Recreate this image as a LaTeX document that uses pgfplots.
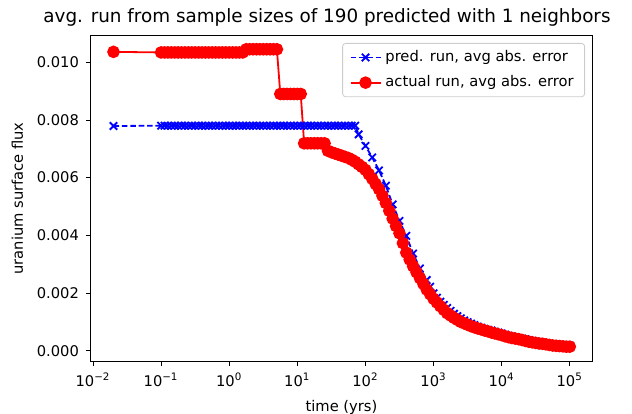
\documentclass[border=0pt]{standalone}
\usepackage{pgfplots}
\pgfplotsset{compat=1.18}
\usepackage{pgfplotstable}
\usepackage{fontspec}
\setmainfont{DejaVu Sans}

% t (yrs), predicted run, actual run (nan: no prediction sample at that time)
\pgfplotstableread{
t      pred     actual
0.02   0.00779  0.01036
0.1    0.0078   0.01034
0.1122 0.0078   0.01034
0.1259 0.0078   0.01034
0.1413 0.0078   0.01034
0.1585 0.0078   0.01034
0.1778 0.0078   0.01034
0.1995 0.0078   0.01034
0.2239 0.0078   0.01034
0.2512 0.0078   0.01034
0.2818 0.0078   0.01034
0.3162 0.0078   0.01034
0.3548 0.0078   0.01034
0.3981 0.0078   0.01034
0.4467 0.0078   0.01034
0.5012 0.0078   0.01034
0.5623 0.0078   0.01034
0.6310 0.0078   0.01034
0.7079 0.0078   0.01034
0.7943 0.0078   0.01034
0.8913 0.0078   0.01034
1      0.0078   0.01034
1.122  0.0078   0.01034
1.259  0.0078   0.01034
1.413  0.0078   0.01034
1.585  0.0078   0.01034
1.778  0.0078   0.01045
1.995  0.0078   0.01045
2.239  0.0078   0.01045
2.512  0.0078   0.01045
2.818  0.0078   0.01045
3.162  0.0078   0.01045
3.548  0.0078   0.01045
3.981  0.0078   0.01045
4.467  0.0078   0.01045
5.012  0.0078   0.01045
5.623  0.0078   0.0089
6.310  0.0078   0.0089
7.079  0.0078   0.0089
7.943  0.0078   0.0089
8.913  0.0078   0.0089
10     0.0078   0.0089
11.22  0.0078   0.0089
12.59  0.0078   0.00719
14.13  0.0078   0.00719
15.85  0.0078   0.00719
17.78  0.0078   0.00719
19.95  0.0078   0.00719
22.39  0.0078   0.00719
25.12  0.0078   0.00719
28.18  0.0078   0.00693
31.62  0.0078   0.00688
35.48  0.0078   0.00684
39.81  0.0078   0.0068
44.67  0.0078   0.00676
50.12  0.0078   0.00672
56.23  0.0078   0.00668
63.10  0.0078   0.00662
70.79  0.0078   0.00655
79.43  0.0075   0.00646
89.13  nan      0.00637
100    0.0071   0.00627
112.2  nan      0.00612
125.9  0.0067   0.00596
141.3  nan      0.00578
158.5  0.00625  0.0056
177.8  nan      0.00537
199.5  0.00572  0.00512
223.9  nan      0.00485
251.2  0.00507  0.00458
281.8  nan      0.00432
316.2  0.0045   0.00407
354.8  nan      0.00373
398.1  0.00398  0.0034
446.7  nan      0.00316
501.2  0.00337  0.00293
562.3  nan      0.00272
631.0  0.00285  0.00252
707.9  nan      0.00232
794.3  0.00245  0.00212
891.3  0.00222  0.00196
1000   0.00199  0.0018
1122   0.00184  0.00167
1259   0.0017   0.00154
1413   0.00159  0.00142
1585   0.00148  0.0013
1778   0.00138  0.00122
1995   0.00128  0.00114
2239   0.0012   0.00107
2512   0.00112  0.001
2818   0.00105  0.00095
3162   0.00099  0.0009
3548   0.00094  0.00085
3981   0.00089  0.00081
4467   0.00084  0.00077
5012   0.0008   0.00074
5623   0.00076  0.0007
6310   0.00073  0.00067
7079   0.0007   0.00063
7943   0.00066  0.0006
8913   0.00063  0.00057
10000  0.0006   0.00054
11220  0.00056  0.0005
12589  0.00052  0.00047
14125  0.0005   0.00044
15849  0.00047  0.00042
17783  0.00044  0.0004
19953  0.00042  0.00037
22387  0.0004   0.00034
25119  0.00037  0.00031
28184  0.00034  0.00029
31623  0.00032  0.00027
35481  0.0003   0.00025
39811  0.00028  0.00024
44668  0.00026  0.00022
50119  0.00025  0.0002
56234  0.00023  0.00018
63096  0.00022  0.00017
70795  0.00021  0.00016
79433  0.0002   0.00015
89125  0.00019  0.00014
100000 0.00018  0.00014
}\runs

\newcommand{\tickfont}{\fontsize{7.35}{8.8}\selectfont}

\begin{document}
\begin{tikzpicture}
\useasboundingbox (0,0) rectangle (316pt,206.5pt);
\begin{axis}[
  at={(45.5pt,26pt)}, anchor=south west,
  scale only axis, width=250.5pt, height=162.5pt,
  xmode=log, log basis x=10,
  xmin=0.00935, xmax=212000,
  ymin=-0.000357, ymax=0.01091,
  unbounded coords=discard,
  axis line style={line width=0.5pt},
  tick align=outside, tick pos=left,
  major tick length=2.5pt, minor tick length=1.4pt,
  every tick/.style={black, line width=0.4pt},
  xtick={0.01,0.1,1,10,100,1000,10000,100000},
  xticklabels={10\textsuperscript{−2},10\textsuperscript{−1},10\textsuperscript{0},10\textsuperscript{1},10\textsuperscript{2},10\textsuperscript{3},10\textsuperscript{4},10\textsuperscript{5}},
  ytick={0,0.002,0.004,0.006,0.008,0.010},
  scaled y ticks=false,
  yticklabel style={/pgf/number format/.cd, fixed, fixed zerofill, precision=3, assume math mode=true},
  ticklabel style={font=\tickfont},
  xlabel={time (yrs)}, ylabel={uranium surface flux},
  label style={font=\tickfont},
  title={avg. run from sample sizes of 190 predicted with 1 neighbors},
  title style={font=\fontsize{9.18}{11}\selectfont, yshift=-4.5pt, xshift=-7.25pt},
  legend style={at={(1,1)}, anchor=north east, xshift=-3.5pt, yshift=-3.5pt,
    draw=black!20, rounded corners=1.5pt, font=\tickfont,
    inner xsep=3.5pt, inner ysep=1.5pt, row sep=1.5pt},
  legend cell align=left,
  legend image code/.code={\draw[mark repeat=2, mark phase=2] plot coordinates {(0pt,0pt) (7.5pt,0pt) (15pt,0pt)};},
]
\addplot[blue, line width=0.9pt, dash pattern=on 2.8pt off 1.4pt, mark=x, mark size=2.6pt, mark options={solid, line width=0.9pt}]
  table[x=t, y=pred] {\runs};
\addplot[red, line width=0.9pt, mark=*, mark size=2.7pt, mark options={solid, fill=red, draw=red}]
  table[x=t, y=actual] {\runs};
\legend{{pred. run, avg abs. error}, {actual run, avg abs. error}}
\end{axis}
\end{tikzpicture}
\end{document}
